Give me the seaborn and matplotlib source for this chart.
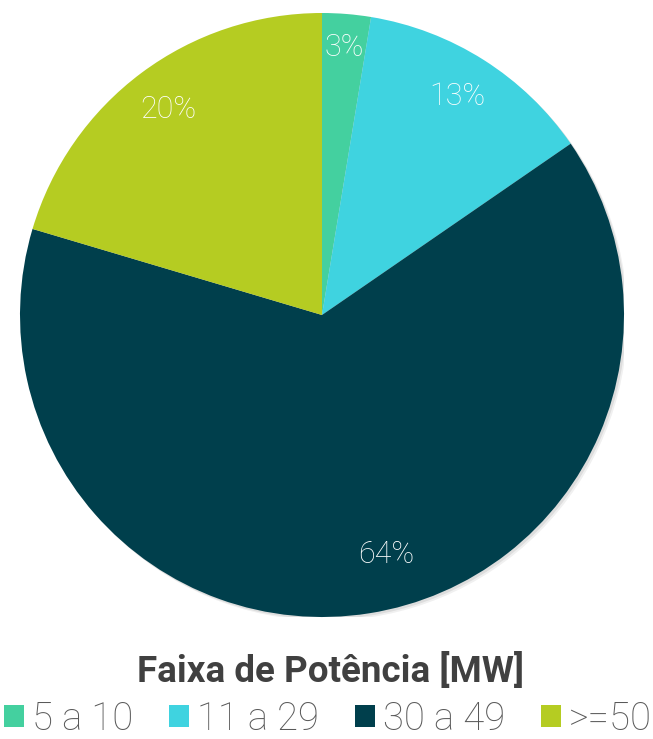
import numpy as np
import matplotlib
matplotlib.use("Agg")
import matplotlib.pyplot as plt
from matplotlib.patches import Patch, Circle
import seaborn as sns

# data
categories = ['5 a 10', '11 a 29', '30 a 49', '>=50']
shares = [2.6, 12.8, 64.2, 20.4]
colors = ['#44d09f', '#3fd3e0', '#003f4c', '#b5cc22']
# where each % label sits (fraction of radius, angle shift in degrees)
label_r = [0.89, 0.85, 0.82, 0.85]
label_shift = [0, 0.7, 6, 0]

sns.set_theme(style='white')
plt.rcParams['font.family'] = ['Roboto', 'DejaVu Sans']

fig = plt.figure(figsize=(6.53, 7.39), dpi=100)
ax = fig.add_axes([20/653, 122/739, 604/653, 604/739])

# soft drop shadow behind the pie
for k, a in [(0.012, 0.06), (0.007, 0.08)]:
    ax.add_patch(Circle((k, -k), 1.0, facecolor='black', alpha=a, edgecolor='none', zorder=0))

wedges, texts, autotexts = ax.pie(
    shares,
    colors=sns.color_palette(colors),
    startangle=90,
    counterclock=False,
    autopct='%1.0f%%',
    pctdistance=0.85,
    wedgeprops=dict(linewidth=0, zorder=1),
    textprops=dict(color='white', fontsize=22, fontweight='light'),
)
for w, t, r, s in zip(wedges, autotexts, label_r, label_shift):
    mid = np.deg2rad((w.theta1 + w.theta2) / 2 + s)
    t.set_position((r * np.cos(mid), r * np.sin(mid)))
    t.set_zorder(3)

ax.set_aspect('equal')
ax.set_xlim(-1, 1)
ax.set_ylim(-1, 1)
ax.axis('off')

fig.text(0.506, 1 - 672/739, 'Faixa de Potência [MW]', ha='center', va='center',
         fontsize=26.5, fontweight='bold', color='#404040')

handles = [Patch(facecolor=c, edgecolor='none') for c in colors]
fig.legend(handles, categories, loc='center', bbox_to_anchor=(0.502, 1 - 719/739),
           ncol=4, frameon=False, handlelength=0.52, handleheight=0.52,
           handletextpad=0.21, columnspacing=0.94, labelcolor='#595959',
           borderpad=0, prop=dict(family='Roboto', weight='light', size=27.5))

fig.savefig('out.png', dpi=100)
